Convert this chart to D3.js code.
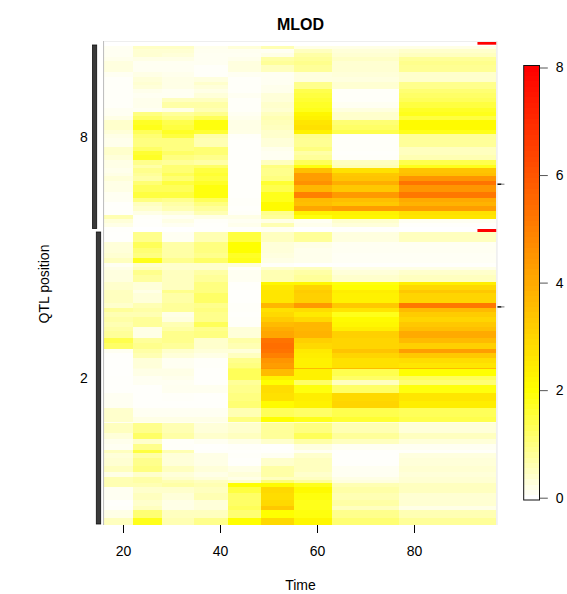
<!DOCTYPE html>
<html><head><meta charset="utf-8">
<script src="https://cdn.jsdelivr.net/npm/d3@7"></script>
<style>html,body{margin:0;padding:0;background:#fff}svg{display:block}text{font-family:"Liberation Sans",Arial,sans-serif;fill:#000}</style>
</head><body><div id="chart"></div>
<script>
const timeBreaks=[16.1,22.05,28,34.6,41.6,48.5,55.3,63.1,76.9,97];
const timeTicks=[20,40,60,80];
const lodTicks=[0,2,4,6,8];
const chr8Breaks=[0,3.3,7.3,10.7,14.7,19,25.7,30.7,35.7,39,43.3,47.3,52.3,55.7,62.3,65.7,70,74,79,84,88,92.3,100.7,104.7,109,114,119,122,126.7,130,134.7,139,146.3,152.3,155.7,160,164.7,169,173,176.7,180.7,185.7];
const chr8Lod=[
[.1,.45,.45,.15,.3,.6,.2,.2,.2],
[.1,.35,.35,.12,.12,.1,.5,.3,.4],
[.1,.35,.3,.1,.1,.2,.7,.35,.5],
[.15,.2,.2,.1,.15,.7,.8,.45,.8],
[.25,.1,.1,.1,.25,.8,.9,.35,.9],
[.25,.1,.1,.05,.25,.5,.8,.35,.85],
[.1,.2,.15,.05,.1,.1,.25,.3,.4],
[.05,.3,.2,.25,.05,.1,.25,.25,.4],
[.05,.35,.2,.4,.05,.1,.9,.35,.9],
[.05,.3,.2,.3,.05,.15,.9,.35,.9],
[.05,.15,.1,.2,.05,.15,1.4,.05,1.1],
[.05,.1,.1,.3,.1,.3,1.5,.05,1.2],
[.05,.15,.5,.5,.05,.3,1.6,.05,1.3],
[.05,.15,.7,.7,.05,.4,1.7,.1,1.5],
[.1,.1,.2,.6,.05,.35,1.8,.25,1.7],
[.1,1,.8,.9,.1,.5,2.2,.4,1.8],
[.2,1.2,1,1.3,.15,.6,2.3,.4,1.5],
[.4,1.7,1.4,1.9,.2,.55,2.6,1.1,2.1],
[.4,1.8,1.5,1.9,.2,.5,2.7,1.2,2.1],
[.3,1.3,1.7,1.6,.2,.4,2.3,1.4,1.8],
[.2,1.1,1.5,.7,.05,.4,.9,.05,.8],
[.15,1,1,.6,.03,.3,.85,.05,.8],
[.4,1.2,1,1.1,.03,.15,1,.05,.5],
[.4,1.6,1.2,1.1,.03,.1,.7,.03,.5],
[.3,1.7,1,.9,.03,.1,.8,.05,.6],
[.2,.9,.8,.7,.03,.5,1.3,.5,1.4],
[.2,.7,1.1,1.2,.03,1,1.9,.6,1.8],
[.15,.9,1.1,1.5,.03,.9,3.5,2.7,3.4],
[.2,.8,1.3,1.6,.03,.9,4.3,3.3,3.5],
[.3,.7,1.1,1.5,.03,1,4.3,3.4,4.5],
[.2,1.1,1.5,1.7,.03,1.6,4.6,3.9,5.3],
[.2,1.3,1.3,1.9,.03,1.4,3.7,3.3,4.5],
[.1,1.5,1.5,1.9,.03,1.8,5,4.4,5.2],
[.1,1,.9,1.3,.05,1.8,3.6,3.5,4],
[.03,.5,.7,1,.05,2.1,3.5,3.3,3.8],
[.03,.4,.6,.8,.03,2.1,4.1,4.3,4.3],
[.03,.2,.3,.6,.05,.9,2.3,2.3,2.7],
[.6,.05,.1,.2,.2,.8,1.9,2.2,2.6],
[.3,.03,.2,.05,.1,.2,.1,.4,.1],
[.2,.03,.1,.03,.15,.6,.15,.3,.03],
[.03,0,0,.02,.03,.1,0,.03,0]
];
const chr2Breaks=[0,10,16,21,25.3,30.3,34.3,37.7,42.7,50,52.7,57.7,61,71,75.7,80,84.3,89.3,94.3,98.7,105.3,111,116.7,121,126,131,136,137,143.3,147.7,152.7,161,168.3,176,184.3,189.3,191,201,207,211.7,217.7,221,226,233.7,239.3,244.3,247.7,251,255,261,267.7,273.7,277.7,286,292.7];
const chr2Lod=[
[.02,.9,.1,.6,1.5,.5,.8,.25,.5],
[.3,1.3,.7,1,2,.3,.2,.1,.1],
[.3,1.1,.7,1,2,.3,.15,.1,.1],
[.35,1,.7,.9,1.7,.25,.15,.08,.08],
[.5,1.8,.9,1.2,1.8,.2,.15,.08,.08],
[.1,.4,.4,.4,.3,.05,0,.02,.03],
[.2,.5,.4,.4,.05,.4,.5,.2,.2],
[.25,.9,.5,.7,.1,.6,.7,.3,.4],
[.25,.75,.5,.8,.1,.6,.8,.4,.5],
[.4,.3,.5,1,.03,2.2,2.2,1.9,2.4],
[.4,.3,.5,1,.03,2.5,3,2,2.9],
[.5,.2,.9,1,.02,2.6,3.2,2.4,3.3],
[.5,.3,.7,1.2,.02,2.6,3.1,2.3,3],
[.4,.6,.8,.9,.05,3.7,4.4,3.3,5.2],
[.8,.7,.8,1,.05,2.7,2.8,2.6,3.6],
[.6,.6,.2,.9,.03,2.9,2.5,1.8,3.2],
[.7,.8,.25,.9,.05,3.2,2.9,2.1,3],
[.6,.8,.6,1.3,.05,3.6,3.7,2.2,3.3],
[.7,.2,.7,.9,.3,3.9,3.7,2.4,3.5],
[.8,.2,.9,1,.3,4.1,3.8,3.1,4],
[1.4,.8,.9,.4,.7,5.3,3.1,3,3.6],
[1.2,.9,.8,.4,.6,5.4,2.9,3,3.1],
[.1,.7,.4,.3,.3,5.3,2.5,3.4,4.3],
[.03,.6,.3,.2,.5,5,2.4,3,3.3],
[.02,.3,.1,.05,.9,4.5,2.3,2.7,2.8],
[.02,.3,.1,.05,1,4.3,2.3,2.7,2.6],
[.02,.25,.15,.03,1.2,4.5,3.6,3.6,3.6],
[.02,.2,.2,.03,1.3,3.6,2.3,1.4,2],
[.03,.1,.15,.03,1.3,2.3,2.3,1.2,1.3],
[.03,.1,.1,.03,.8,2,1.2,.5,1.1],
[.03,.03,.12,.12,.9,2.8,1.9,1.2,1.9],
[.1,.03,.05,.03,1,2.7,2.4,2.9,2.6],
[.1,.03,.03,.03,1.1,2.1,2.3,3,2.4],
[.4,.1,.1,.1,.6,1.3,1.2,1.4,1.3],
[.4,.2,.2,.2,1,2,1.8,1.6,1.4],
[.1,.1,.1,.1,.2,.4,.4,.3,.2],
[.5,.9,.6,.3,.4,.8,1,.6,.3],
[.3,1.2,.7,.4,.5,.8,1.3,.8,.5],
[.15,.4,.05,.1,.2,.4,.7,.5,.3],
[.1,.9,.05,.02,.05,.02,.25,.1,.1],
[.5,1.5,.6,.03,.03,.02,.1,.03,.05],
[.3,.7,.3,.2,.05,.1,.4,.03,.25],
[.35,.9,.3,.2,.03,.4,.5,.03,.3],
[.5,1,.5,.3,.2,.7,.5,.1,.35],
[.2,.4,.3,.2,.3,.7,.4,.1,.3],
[.6,.7,.4,.3,.2,.5,.5,.2,.35],
[.6,.7,.6,.5,.4,1.1,.8,.25,.35],
[.6,.6,.7,.6,2,2.1,1.8,.6,.5],
[.1,.4,.4,.5,1.5,2.9,2.1,.7,.5],
[.1,.5,.3,.6,1.2,2.8,1.9,.6,.35],
[.03,.4,.2,.3,1.2,2.9,1.8,.7,.35],
[.05,.5,.2,.3,1.3,3.3,1.8,.5,.2],
[.2,1.1,.5,.5,1.1,2,1.9,.9,.6],
[.5,1.8,.6,.9,2,2.9,2.2,1.1,.8]
];
const peakMarks=[{chr:8,pos:138.2},{chr:2,pos:74.6}];
const chromosomes=[
 {name:"8",breaks:chr8Breaks,lod:chr8Lod},
 {name:"2",breaks:chr2Breaks,lod:chr2Lod}
];

const W=567,H=594;
const svg=d3.select("#chart").append("svg").attr("width",W).attr("height",H);
const x=d3.scaleLinear().domain([20,80]).range([123,414]);
const color=d3.scaleLinear().domain([0,2,8]).range(["#ffffff","#ffff00","#ff0000"]);
const layout={"8":{top:46,bottom:231.7,bar:[92.5,96.7],barTop:45,barBottom:228.5,redTop:41.7,labelY:137},
              "2":{top:232.3,bottom:525,bar:[96.3,100.7],barTop:232,barBottom:524,redTop:229,labelY:378}};
const plotL=x(16.1),plotR=x(97);

chromosomes.forEach(c=>{
  const L=layout[c.name];
  const y=d3.scaleLinear().domain([0,d3.max(c.breaks)]).range([L.top,L.bottom]);
  c.y=y;
  const g=svg.append("g").attr("shape-rendering","crispEdges");
  c.lod.forEach((row,i)=>{
    g.selectAll(null).data(row).join("rect")
      .attr("x",(d,j)=>x(timeBreaks[j]))
      .attr("width",(d,j)=>x(timeBreaks[j+1])-x(timeBreaks[j]))
      .attr("y",y(c.breaks[i]))
      .attr("height",y(c.breaks[i+1])-y(c.breaks[i]))
      .attr("fill",d=>color(d));
  });
  svg.append("rect").attr("x",L.bar[0]).attr("y",L.barTop).attr("width",L.bar[1]-L.bar[0]).attr("height",L.barBottom-L.barTop)
    .attr("fill","#3a3a3a").attr("stroke","#111").attr("stroke-width",.8);
  svg.append("rect").attr("x",plotR-19).attr("y",L.redTop).attr("width",19).attr("height",3).attr("fill","#ff0000");
  svg.append("text").attr("x",84).attr("y",L.labelY+5).attr("text-anchor","middle").attr("font-size",14).text(c.name);
});

// frame
svg.append("line").attr("x1",plotL-.5).attr("x2",plotL-.5).attr("y1",41).attr("y2",525).attr("stroke","#bbb").attr("stroke-width",1);
svg.append("line").attr("x1",plotR+.5).attr("x2",plotR+.5).attr("y1",41).attr("y2",525).attr("stroke","#e4e4e4").attr("stroke-width",1);
svg.append("line").attr("x1",plotL).attr("x2",plotR).attr("y1",41.5).attr("y2",41.5).attr("stroke","#eee").attr("stroke-width",1);

// peak ticks
peakMarks.forEach(p=>{
  const c=chromosomes.find(k=>k.name==String(p.chr));
  const yy=c.y(p.pos);
  svg.append("line").attr("x1",plotR+1).attr("x2",plotR+5).attr("y1",yy).attr("y2",yy).attr("stroke","#111").attr("stroke-width",1.5);
  svg.append("line").attr("x1",plotR+5).attr("x2",plotR+8).attr("y1",yy).attr("y2",yy).attr("stroke","#777").attr("stroke-width",1);
});

// bottom axis
const axisG=svg.append("g").attr("transform","translate(0,525)")
  .call(d3.axisBottom(x).tickValues(timeTicks).tickSize(8).tickPadding(13).tickFormat(d3.format("d")));
axisG.select(".domain").remove();
axisG.selectAll("text").attr("font-size",14).attr("font-family","Liberation Sans");

// titles
svg.append("text").attr("x",300.5).attr("y",29.5).attr("text-anchor","middle").attr("font-size",16).attr("font-weight","bold").text("MLOD");
svg.append("text").attr("x",300.5).attr("y",590).attr("text-anchor","middle").attr("font-size",14).text("Time");
svg.append("text").attr("transform","translate(48.5,284) rotate(-90)").attr("text-anchor","middle").attr("font-size",14).text("QTL position");

// colorbar
const cb=d3.scaleLinear().domain([0,8]).range([497.7,67.5]);
const cbLevels=d3.range(0,8.2,.1);
const cbG=svg.append("g").attr("shape-rendering","crispEdges");
cbG.selectAll("rect").data(cbLevels).join("rect")
  .attr("x",524).attr("width",15.5)
  .attr("y",d=>Math.max(65.5,cb(d)-3)).attr("height",d=>Math.min(6,500-cb(d)+3))
  .attr("fill",d=>color(d));
svg.append("rect").attr("x",523.7).attr("y",65.5).attr("width",15.8).attr("height",434.5).attr("fill","none").attr("stroke","#111").attr("stroke-width",1);
const lg=svg.append("g").attr("transform","translate(539.8,0)")
  .call(d3.axisRight(cb).tickValues(lodTicks).tickSize(8).tickPadding(8).tickFormat(d3.format("d")));
lg.select(".domain").remove();
lg.selectAll("line").attr("stroke","#555");
lg.selectAll("text").attr("font-size",14).attr("font-family","Liberation Sans");
</script></body></html>
